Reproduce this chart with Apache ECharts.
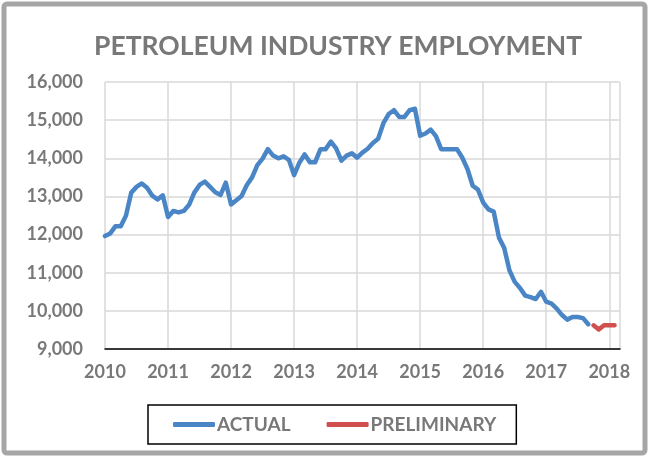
<!DOCTYPE html>
<html lang="en">
<head>
    <meta charset="UTF-8">
    <title>Petroleum Industry Employment</title>
    <style>
        html, body {
            margin: 0;
            background: #fff;
        }

        #chart {
            width: 649px;
            height: 457px;
        }
    </style>
</head>
<body>
    <div id="chart"></div>

    <script src="https://cdn.jsdelivr.net/npm/echarts@6/dist/echarts.min.js"></script>
    <script>

        // monthly values, actual series starts Jan 2010
        var actualStart = 2010;
        var actualValues = [
            11960, 12030, 12220, 12220, 12500, 13100, 13250, 13340, 13230, 13020, 12920, 13030,   // 2010
            12460, 12620, 12580, 12620, 12780, 13100, 13300, 13390, 13250, 13110, 13040, 13360,   // 2011
            12790, 12900, 13010, 13300, 13500, 13820, 13990, 14240, 14070, 14000, 14050, 13960,   // 2012
            13560, 13885, 14100, 13895, 13895, 14235, 14240, 14440, 14260, 13940, 14070, 14130,   // 2013
            14015, 14150, 14250, 14400, 14510, 14920, 15160, 15260, 15085, 15085, 15260, 15300,   // 2014
            14590, 14650, 14750, 14580, 14240, 14240, 14240, 14240, 14020, 13720, 13280, 13180,   // 2015
            12840, 12660, 12600, 11920, 11650, 11060, 10760, 10600, 10400, 10360, 10310, 10500,   // 2016
            10240, 10190, 10060, 9890, 9770, 9840, 9840, 9810, 9650                               // 2017
        ];

        // preliminary series starts Oct 2017
        var prelimStart = 2017 + 9 / 12;
        var prelimValues = [9620, 9510, 9620, 9620, 9620];

        var yearTicks = [2010, 2011, 2012, 2013, 2014, 2015, 2016, 2017, 2018];

        function toPoints(start, values) {
            return values.map(function(v, i) {
                return [start + i / 12, v];
            });
        }

        var textGray = '#787878';
        var font = 'Lato, "Open Sans", sans-serif';

        var myChart = echarts.init(document.getElementById('chart'));

        myChart.setOption({
            animation: false,
            title: {
                text: 'PETROLEUM INDUSTRY EMPLOYMENT',
                left: 89,
                top: 28,
                textStyle: {
                    color: textGray,
                    fontFamily: font,
                    fontWeight: 'bold',
                    fontSize: 26.5
                }
            },
            graphic: [{
                type: 'rect',
                silent: true,
                shape: { x: 4, y: 4, width: 641, height: 449, r: 3 },
                style: { fill: 'none', stroke: '#a6a6a6', lineWidth: 5 }
            }],
            legend: {
                left: 148,
                top: 405,
                padding: [10, 20, 10, 25],
                borderColor: '#000',
                borderWidth: 1.5,
                itemWidth: 42,
                itemHeight: 5,
                itemGap: 36,
                icon: 'roundRect',
                textStyle: {
                    color: textGray,
                    fontFamily: font,
                    fontWeight: 'bold',
                    fontSize: 19,
                    padding: [0, 0, 0, -3]
                },
                data: ['ACTUAL', 'PRELIMINARY']
            },
            grid: {
                left: 105,
                right: 29,
                top: 82,
                bottom: 108,
                containLabel: false
            },
            xAxis: {
                type: 'value',
                min: yearTicks[0],
                max: 2018.17,
                interval: 1,
                axisLine: { show: true, onZero: false, lineStyle: { color: '#000', width: 1.5 } },
                axisTick: { show: false },
                splitLine: { show: true, lineStyle: { color: '#d9d9d9', width: 1.5 } },
                axisLabel: {
                    showMaxLabel: false,
                    margin: 14,
                    color: textGray,
                    fontFamily: font,
                    fontWeight: 'bold',
                    fontSize: 18,
                    formatter: function(v) {
                        return yearTicks.indexOf(Math.round(v)) >= 0 ? String(Math.round(v)) : '';
                    }
                }
            },
            yAxis: {
                type: 'value',
                min: 9000,
                max: 16000,
                interval: 1000,
                axisLine: { show: false },
                axisTick: { show: false },
                splitLine: { lineStyle: { color: '#d9d9d9', width: 1.5 } },
                axisLabel: {
                    margin: 22,
                    color: textGray,
                    fontFamily: font,
                    fontWeight: 'bold',
                    fontSize: 18,
                    formatter: function(v) {
                        return v.toLocaleString('en-US');
                    }
                }
            },
            series: [{
                name: 'ACTUAL',
                type: 'line',
                symbol: 'none',
                color: '#4a86c6',
                lineStyle: { width: 4.5, cap: 'round', join: 'round' },
                data: toPoints(actualStart, actualValues)
            }, {
                name: 'PRELIMINARY',
                type: 'line',
                symbol: 'none',
                color: '#cf504e',
                lineStyle: { width: 4.5, cap: 'round', join: 'round' },
                data: toPoints(prelimStart, prelimValues)
            }]
        });

    </script>
</body>
</html>
